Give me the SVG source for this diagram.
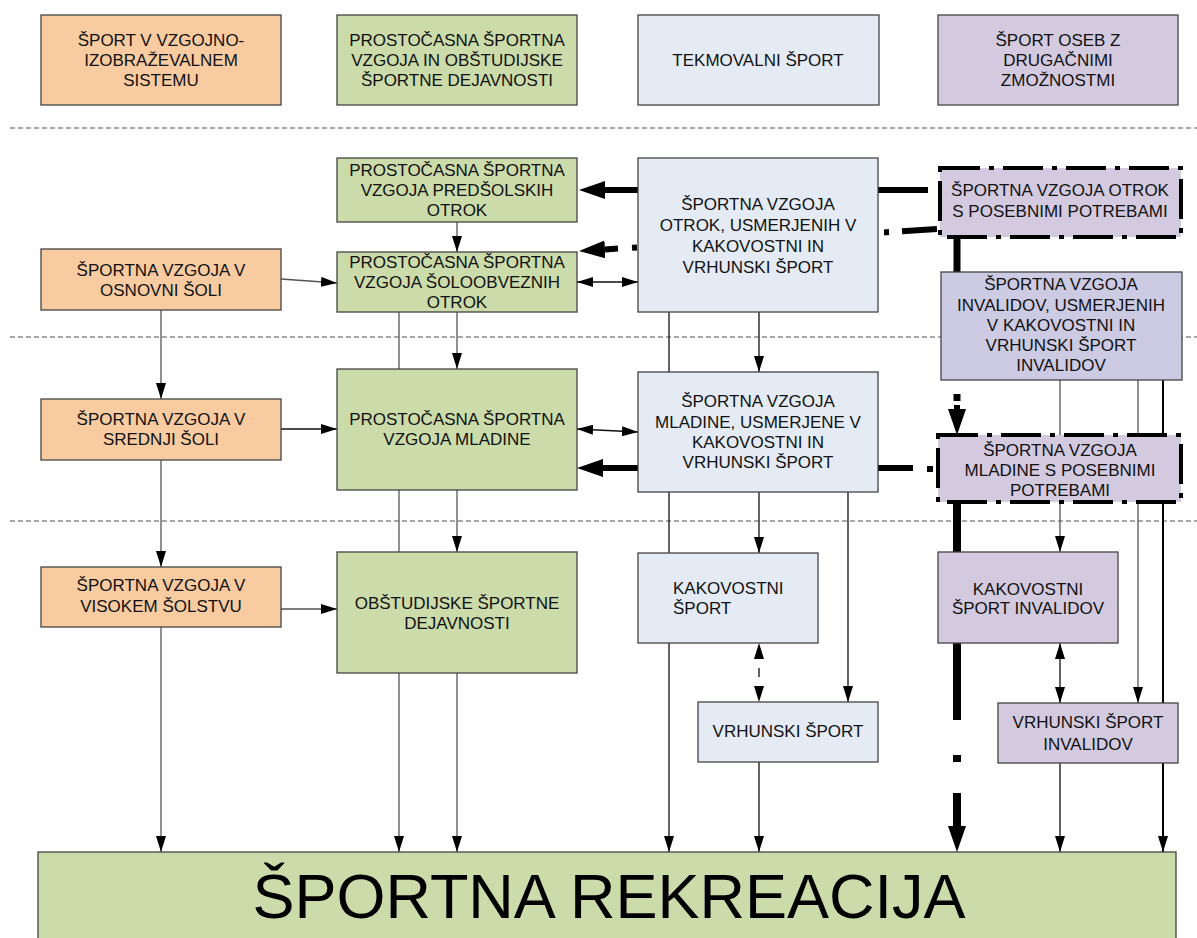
<svg xmlns="http://www.w3.org/2000/svg" width="1197" height="938" viewBox="0 0 1197 938">
<defs>
<marker id="ah" viewBox="0 0 16 10" refX="16" refY="5" markerWidth="16" markerHeight="10" markerUnits="userSpaceOnUse" orient="auto-start-reverse"><path d="M0,0 L16,5 L0,10 Z" fill="#000"/></marker>
<marker id="th" viewBox="0 0 26 18" refX="0" refY="9" markerWidth="26" markerHeight="18" markerUnits="userSpaceOnUse" orient="auto"><path d="M0,0 L26,9 L0,18 Z" fill="#000"/></marker>
<style>
.sep{stroke:#555;stroke-width:1;stroke-dasharray:5 3;fill:none}
.c{stroke:#555;stroke-width:1.3;fill:none}
.ck{stroke:#111;stroke-width:1.3;fill:none}
.arr{marker-end:url(#ah)}
.dbl{marker-start:url(#ah);marker-end:url(#ah)}
.thick{stroke:#000;stroke-width:6;fill:none}
.thv{stroke:#000;stroke-width:8;fill:none}
.box{stroke:#444;stroke-width:1.3}
.or{fill:#F8CBA1}
.gr{fill:#CBDBA9}
.bl{fill:#E5EBF5}
.pu{fill:#D3CAE0}
.pi{fill:#CDCBE4}
.dd{stroke:#000;stroke-width:4;stroke-dasharray:40 9 5 9}
text{font-family:"Liberation Sans",Arial,sans-serif;font-size:17px;fill:#111;text-anchor:middle}
</style>
</defs>
<rect width="1197" height="938" fill="#fff"/>
<g id="separators">
<line class="sep" x1="10" y1="128" x2="1197" y2="128"/>
<line class="sep" x1="10" y1="337" x2="1197" y2="337"/>
<line class="sep" x1="10" y1="521" x2="1197" y2="521"/>
</g>
<g id="connectors">
<line class="c arr" x1="457" y1="222" x2="457" y2="252"/>
<line class="c arr" x1="281" y1="279" x2="337" y2="283"/>
<line class="c arr" x1="161" y1="310" x2="161" y2="399"/>
<line class="ck arr" x1="281" y1="429" x2="337" y2="429"/>
<line class="c arr" x1="161" y1="460" x2="161" y2="567"/>
<line class="c arr" x1="281" y1="609" x2="337" y2="609"/>
<line class="c arr" x1="161" y1="627" x2="161" y2="852"/>
<line class="c arr" x1="457" y1="312" x2="457" y2="369"/>
<line class="c arr" x1="399" y1="312" x2="399" y2="852"/>
<line class="c arr" x1="457" y1="490" x2="457" y2="552"/>
<line class="c arr" x1="457" y1="673" x2="457" y2="852"/>
<line class="ck arr" x1="669" y1="312" x2="669" y2="852"/>
<line class="ck arr" x1="759" y1="312" x2="759" y2="372"/>
<line class="ck arr" x1="759" y1="492" x2="759" y2="553"/>
<line class="ck arr" x1="848" y1="492" x2="848" y2="702"/>
<path class="ck dbl" d="M759,643 L759,702" stroke-dasharray="0 25 9 100"/>
<line class="ck arr" x1="759" y1="762" x2="759" y2="852"/>
<line class="ck dbl" x1="577" y1="282" x2="638" y2="282"/>
<line class="ck dbl" x1="577" y1="429" x2="638" y2="432"/>
<line class="c arr" x1="1060" y1="380" x2="1060" y2="552"/>
<line class="c arr" x1="1138" y1="380" x2="1138" y2="703"/>
<line stroke="#000" stroke-width="2" marker-end="url(#ah)" x1="1163" y1="380" x2="1163" y2="852"/>
<line class="ck dbl" x1="1060" y1="643" x2="1060" y2="703"/>
<line class="ck arr" x1="1060" y1="763" x2="1060" y2="852"/>
<line class="thick" x1="928" y1="190" x2="605" y2="190" marker-end="url(#th)"/>
<path class="thick" d="M937,229 L902,231.3 M889,232.1 L884,232.4"/>
<path class="thick" d="M637,247.5 L632,247.8 M618,248.6 L605,249.4" marker-end="url(#th)"/>
<line class="thick" x1="913" y1="468" x2="603" y2="468" marker-end="url(#th)"/>
<line class="thick" x1="927" y1="469" x2="933" y2="469"/>
<line stroke="#000" stroke-width="7" x1="957" y1="237" x2="957" y2="380"/>
<line stroke="#000" stroke-width="7" x1="957" y1="394" x2="957" y2="401"/>
<line stroke="#000" stroke-width="6" x1="957" y1="405" x2="957" y2="409" marker-end="url(#th)"/>
<line class="thv" x1="957" y1="502" x2="957" y2="720"/>
<line class="thv" x1="957" y1="755" x2="957" y2="762"/>
<line class="thv" x1="957" y1="793" x2="957" y2="826" marker-end="url(#th)"/>
</g>
<g id="n-sistem"><rect class="box or" x="41" y="15" width="240" height="90"/><text x="161" y="46">ŠPORT V VZGOJNO-</text><text x="161" y="66">IZOBRAŽEVALNEM</text><text x="161" y="86">SISTEMU</text></g>
<g id="n-prostocasna"><rect class="box gr" x="337" y="15" width="240" height="90"/><text x="457" y="46">PROSTOČASNA ŠPORTNA</text><text x="457" y="66">VZGOJA IN OBŠTUDIJSKE</text><text x="457" y="86">ŠPORTNE DEJAVNOSTI</text></g>
<g id="n-tekmovalni"><rect class="box bl" x="638" y="15" width="241" height="90"/><text x="758" y="66">TEKMOVALNI ŠPORT</text></g>
<g id="n-drugacne"><rect class="box pu" x="938" y="15" width="240" height="90"/><text x="1058" y="46">ŠPORT OSEB Z</text><text x="1058" y="66">DRUGAČNIMI</text><text x="1058" y="86">ZMOŽNOSTMI</text></g>
<g id="n-predsolski"><rect class="box gr" x="337" y="158" width="240" height="64"/><text x="457" y="176">PROSTOČASNA ŠPORTNA</text><text x="457" y="196">VZGOJA PREDŠOLSKIH</text><text x="457" y="216">OTROK</text></g>
<g id="n-soloobvezni"><rect class="box gr" x="337" y="252" width="240" height="60"/><text x="457" y="268">PROSTOČASNA ŠPORTNA</text><text x="457" y="288">VZGOJA ŠOLOOBVEZNIH</text><text x="457" y="308">OTROK</text></g>
<g id="n-otroci-kv"><rect class="box bl" x="638" y="158" width="240" height="154"/><text x="758" y="210">ŠPORTNA VZGOJA</text><text x="758" y="231">OTROK, USMERJENIH V</text><text x="758" y="252">KAKOVOSTNI IN</text><text x="758" y="273">VRHUNSKI ŠPORT</text></g>
<g id="n-otroci-pp"><rect class="pu dd" x="940" y="168" width="241" height="69"/><text x="1060" y="196">ŠPORTNA VZGOJA OTROK</text><text x="1060" y="217">S POSEBNIMI POTREBAMI</text></g>
<g id="n-osnovna"><rect class="box or" x="41" y="249" width="240" height="61"/><text x="161" y="276">ŠPORTNA VZGOJA V</text><text x="161" y="296">OSNOVNI ŠOLI</text></g>
<g id="n-invalidi-kv"><rect class="box pi" x="941" y="272" width="241" height="108"/><text x="1061" y="290">ŠPORTNA VZGOJA</text><text x="1061" y="311">INVALIDOV, USMERJENIH</text><text x="1061" y="331">V KAKOVOSTNI IN</text><text x="1061" y="351">VRHUNSKI ŠPORT</text><text x="1061" y="371">INVALIDOV</text></g>
<g id="n-srednja"><rect class="box or" x="41" y="399" width="240" height="61"/><text x="161" y="425">ŠPORTNA VZGOJA V</text><text x="161" y="445">SREDNJI ŠOLI</text></g>
<g id="n-mladina"><rect class="box gr" x="337" y="369" width="240" height="121"/><text x="457" y="425">PROSTOČASNA ŠPORTNA</text><text x="457" y="445">VZGOJA MLADINE</text></g>
<g id="n-mladina-kv"><rect class="box bl" x="638" y="372" width="240" height="120"/><text x="758" y="407">ŠPORTNA VZGOJA</text><text x="758" y="428">MLADINE, USMERJENE V</text><text x="758" y="448">KAKOVOSTNI IN</text><text x="758" y="468">VRHUNSKI ŠPORT</text></g>
<g id="n-mladina-pp"><rect class="pu dd" x="938" y="435" width="243" height="67"/><text x="1060" y="456">ŠPORTNA VZGOJA</text><text x="1060" y="476">MLADINE S POSEBNIMI</text><text x="1060" y="496">POTREBAMI</text></g>
<g id="n-visoko"><rect class="box or" x="41" y="567" width="240" height="60"/><text x="161" y="591">ŠPORTNA VZGOJA V</text><text x="161" y="612">VISOKEM ŠOLSTVU</text></g>
<g id="n-obstudijske"><rect class="box gr" x="337" y="552" width="240" height="121"/><text x="457" y="609">OBŠTUDIJSKE ŠPORTNE</text><text x="457" y="629">DEJAVNOSTI</text></g>
<g id="n-kakovostni"><rect class="box bl" x="638" y="553" width="180" height="90"/><text x="673" y="594" style="text-anchor:start">KAKOVOSTNI</text><text x="673" y="614" style="text-anchor:start">ŠPORT</text></g>
<g id="n-vrhunski"><rect class="box bl" x="698" y="702" width="180" height="60"/><text x="788" y="737">VRHUNSKI ŠPORT</text></g>
<g id="n-kakovostni-inv"><rect class="box pu" x="938" y="552" width="180" height="91"/><text x="1028" y="595">KAKOVOSTNI</text><text x="1028" y="614">ŠPORT INVALIDOV</text></g>
<g id="n-vrhunski-inv"><rect class="box pu" x="998" y="703" width="180" height="60"/><text x="1088" y="728">VRHUNSKI ŠPORT</text><text x="1088" y="750">INVALIDOV</text></g>
<g id="n-rekreacija"><rect class="box gr" x="38" y="852" width="1138" height="100" stroke="#000"/><text x="609" y="918" style="font-size:63px;fill:#000">ŠPORTNA REKREACIJA</text></g>
</svg>
